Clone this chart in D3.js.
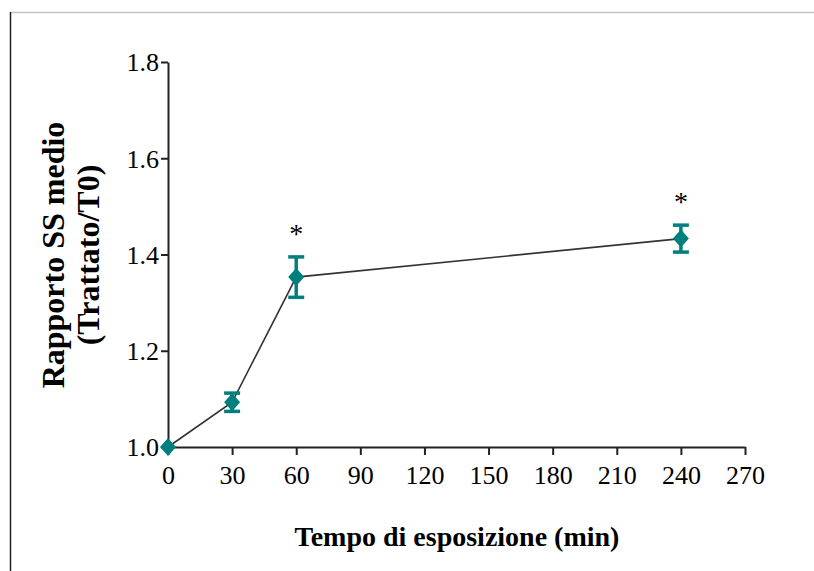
<!DOCTYPE html>
<html>
<head>
<meta charset="utf-8">
<script src="https://cdn.jsdelivr.net/npm/d3@7"></script>
<style>
  body { margin: 0; background: #fff; }
  svg { display: block; }
  text { font-family: "Liberation Serif", "Times New Roman", serif; fill: #000; }
</style>
</head>
<body>
<svg id="chart" width="814" height="571"></svg>
<script>
// data
const times = [0, 30, 60, 240];
const means = [1.0, 1.093, 1.353, 1.433];
const errs = [0, 0.019, 0.042, 0.028];
const signif = [false, false, true, true];
const xTicks = [0, 30, 60, 90, 120, 150, 180, 210, 240, 270];
const yTicks = [1.0, 1.2, 1.4, 1.6, 1.8];

const svg = d3.select("#chart");
const teal = "#007f7f";

// frame lines of the page
svg.append("line").attr("x1", 10).attr("x2", 814).attr("y1", 12.5).attr("y2", 12.5)
  .attr("stroke", "#c4c4c4").attr("stroke-width", 1.5);
svg.append("line").attr("x1", 10.5).attr("x2", 10.5).attr("y1", 12).attr("y2", 571)
  .attr("stroke", "#222").attr("stroke-width", 1.5);

const x = d3.scaleLinear().domain([0, 270]).range([168, 745]);
const y = d3.scaleLinear().domain([1.0, 1.8]).range([447, 62]);

const xAxis = svg.append("g").attr("transform", "translate(0,447)")
  .call(d3.axisBottom(x).tickValues(xTicks).tickSize(8).tickPadding(7).tickSizeOuter(0));
const yAxis = svg.append("g").attr("transform", "translate(168,0)")
  .call(d3.axisLeft(y).tickValues(yTicks).tickFormat(d3.format(".1f")).tickSize(7).tickPadding(2).tickSizeOuter(0));

[xAxis, yAxis].forEach(g => {
  g.select(".domain").attr("stroke", "#222").attr("stroke-width", 2);
  g.selectAll(".tick line").attr("stroke", "#222").attr("stroke-width", 2);
  g.selectAll(".tick text").style("font-family", "Liberation Serif, serif")
    .style("font-size", "26px").attr("fill", "#111");
});
xAxis.selectAll(".tick text").attr("dy", "0.85em");
yAxis.selectAll(".tick text").attr("dy", "0.34em");

// axis titles
svg.append("text").attr("x", 457).attr("y", 546).attr("text-anchor", "middle")
  .style("font-size", "28px").style("font-weight", "bold").text("Tempo di esposizione (min)");
const yt = svg.append("text").attr("transform", "translate(0,255) rotate(-90)")
  .attr("text-anchor", "middle").style("font-size", "32px").style("font-weight", "bold");
yt.append("tspan").attr("x", 0).attr("y", 64).text("Rapporto SS medio");
yt.append("tspan").attr("x", 0).attr("y", 99).text("(Trattato/T0)");

const pts = times.map((t, i) => ({ t, m: means[i], e: errs[i], s: signif[i] }));

// connecting line
svg.append("path").datum(pts)
  .attr("d", d3.line().x(d => x(d.t)).y(d => y(d.m)))
  .attr("fill", "none").attr("stroke", "#333").attr("stroke-width", 1.6);

// error bars
const eb = svg.append("g").attr("stroke", teal).attr("stroke-width", 3.5);
pts.filter(d => d.e > 0).forEach(d => {
  const cx = x(d.t);
  eb.append("line").attr("x1", cx).attr("x2", cx).attr("y1", y(d.m + d.e)).attr("y2", y(d.m - d.e));
  [d.m + d.e, d.m - d.e].forEach(v => {
    eb.append("line").attr("x1", cx - 8).attr("x2", cx + 8).attr("y1", y(v)).attr("y2", y(v));
  });
});

// markers
svg.append("g").selectAll("path").data(pts).join("path")
  .attr("transform", d => `translate(${x(d.t)},${y(d.m)})`)
  .attr("d", "M0,-9L8,0L0,9L-8,0Z").attr("fill", teal);

// significance stars
svg.append("g").selectAll("text").data(pts.filter(d => d.s)).join("text")
  .attr("x", d => x(d.t)).attr("y", d => y(d.m + d.e) - 14)
  .attr("text-anchor", "middle").style("font-size", "28px").text("*");
</script>
</body>
</html>
